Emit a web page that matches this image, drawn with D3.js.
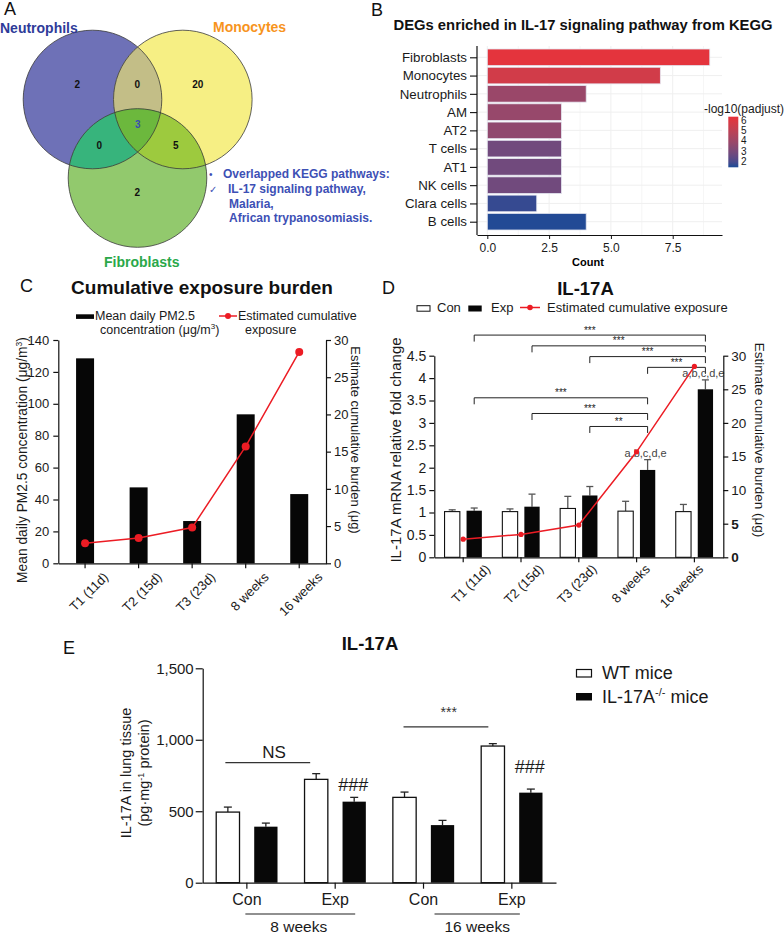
<!DOCTYPE html>
<html><head><meta charset="utf-8">
<script src="https://cdn.jsdelivr.net/npm/d3@7"></script>
<style>body{margin:0;background:#fff} svg{display:block} text{font-family:"Liberation Sans",Arial,sans-serif}</style>
</head><body><svg id="fig" width="784" height="937"></svg>
<script>
// ================= DATA =================
// Panel A
const vennSetNames = ["Neutrophils", "Monocytes", "Fibroblasts"];
const vennRegions = ["N only", "N∩M", "M only", "N∩M∩F", "N∩F", "M∩F", "F only"];
const vennCounts = [2, 0, 20, 3, 0, 5, 2];
const keggLines = ["Overlapped KEGG pathways:", "IL-17 signaling pathway,", "Malaria,", "African trypanosomiasis."];
// Panel B
const degCellTypes = ["Fibroblasts", "Monocytes", "Neutrophils", "AM", "AT2", "T cells", "AT1", "NK cells", "Clara cells", "B cells"];
const degCounts = [9, 7, 4, 3, 3, 3, 3, 3, 2, 4];
const degNegLogPadj = [6.2, 5.6, 3.9, 3.8, 3.6, 2.8, 2.8, 2.8, 1.7, 1.5];
const countTicks = [0, 2.5, 5, 7.5];
const padjTicks = [2, 3, 4, 5, 6];
// Panel C / D
const timePoints = ["T1 (11d)", "T2 (15d)", "T3 (23d)", "8 weeks", "16 weeks"];
const meanDailyPM25 = [128.5, 47.6, 26.5, 93.4, 43.4];
const cumulativeExposure = [2.7, 3.4, 4.8, 15.7, 28.4];
const pm25Ticks = [0, 20, 40, 60, 80, 100, 120, 140];
const burdenTicks = [0, 5, 10, 15, 20, 25, 30];
const il17aConMean = [1.02, 1.02, 1.09, 1.03, 1.02];
const il17aConErr = [0.04, 0.06, 0.27, 0.22, 0.16];
const il17aExpMean = [1.04, 1.13, 1.38, 1.95, 3.75];
const il17aExpErr = [0.06, 0.28, 0.20, 0.23, 0.21];
const foldTicks = [0, 0.5, 1, 1.5, 2, 2.5, 3, 3.5, 4, 4.5];
const sigFrom = [0, 1, 2, 3, 0, 1, 2];
const sigTo = [4, 4, 4, 4, 3, 3, 3];
const sigLabels = ["***", "***", "***", "***", "***", "***", "**"];
const letterLabels = ["", "", "", "a,b,c,d,e", "a,b,c,d,e"];
// Panel E
const eGroups = ["Con 8 weeks", "Exp 8 weeks", "Con 16 weeks", "Exp 16 weeks"];
const eGroupLabels = ["Con", "Exp", "Con", "Exp"];
const ePeriods = ["8 weeks", "16 weeks"];
const wtMean = [494, 723, 597, 956];
const wtErr = [35, 40, 37, 17];
const koMean = [392, 567, 403, 630];
const koErr = [25, 30, 33, 25];
const eTicks = [0, 500, 1000, 1500];

// ================= LAYOUT / DRAW =================
const svg = d3.select("#fig");
svg.append("rect").attr("width", 784).attr("height", 937).attr("fill", "#fff");
const defs = svg.append("defs");
const FONT = "'Liberation Sans',Arial,sans-serif";

function letter(t, x, y) {
  svg.append("text").attr("x", x).attr("y", y).attr("font-size", 18).attr("fill", "#111").text(t);
}
letter("A", 4, 15); letter("B", 371, 16); letter("C", 20, 292); letter("D", 382, 294); letter("E", 63, 654);

// ---------- Panel A: Venn ----------
const vennLayout = [{cx: 92.5, cy: 99.5}, {cx: 182.8, cy: 99.5}, {cx: 137.5, cy: 178}];
const vR = 69.3;
const A = svg.append("g");
["cN", "cM", "cF"].forEach((id, i) => {
  defs.append("clipPath").attr("id", id).append("circle")
    .attr("cx", vennLayout[i].cx).attr("cy", vennLayout[i].cy).attr("r", vR);
});
const baseCols = ["#6e71b7", "#f6ef84", "#92c96d"];
vennLayout.forEach((c, i) => A.append("circle").attr("cx", c.cx).attr("cy", c.cy).attr("r", vR).attr("fill", baseCols[i]));
A.append("circle").attr("cx", vennLayout[1].cx).attr("cy", vennLayout[1].cy).attr("r", vR).attr("clip-path", "url(#cN)").attr("fill", "#c3be87");
A.append("circle").attr("cx", vennLayout[2].cx).attr("cy", vennLayout[2].cy).attr("r", vR).attr("clip-path", "url(#cN)").attr("fill", "#37b47c");
A.append("circle").attr("cx", vennLayout[2].cx).attr("cy", vennLayout[2].cy).attr("r", vR).attr("clip-path", "url(#cM)").attr("fill", "#9dca3e");
A.append("g").attr("clip-path", "url(#cN)").append("circle").attr("cx", vennLayout[2].cx).attr("cy", vennLayout[2].cy).attr("r", vR).attr("clip-path", "url(#cM)").attr("fill", "#6cb83d");
vennLayout.forEach(c => A.append("circle").attr("cx", c.cx).attr("cy", c.cy).attr("r", vR).attr("fill", "none").attr("stroke", "#3a3a3a").attr("stroke-width", 0.8));
const regionPos = [[77.3, 84.3], [137.3, 84.3], [197.7, 84.3], [137.7, 124.3], [99.3, 145.7], [175.7, 145.7], [137.3, 192.3]];
vennCounts.forEach((v, i) => {
  A.append("text").attr("x", regionPos[i][0]).attr("y", regionPos[i][1] + 3.5).attr("text-anchor", "middle")
    .attr("font-size", 10).attr("font-weight", "bold").attr("fill", i === 3 ? "#3a4db0" : "#111").text(v);
});
const setLabelPos = [[0, 33, "start", "#2e3b99"], [213, 32, "start", "#f7941d"], [104, 267, "start", "#2aa84a"]];
vennSetNames.forEach((n, i) => {
  A.append("text").attr("x", setLabelPos[i][0]).attr("y", setLabelPos[i][1]).attr("text-anchor", setLabelPos[i][2])
    .attr("font-size", 14).attr("font-weight", "bold").attr("fill", setLabelPos[i][3]).text(n);
});
const kCol = "#3d50b5";
A.append("text").attr("x", 209).attr("y", 178).attr("font-size", 10).attr("fill", kCol).text("•");
A.append("text").attr("x", 209).attr("y", 193).attr("font-size", 10).attr("fill", kCol).attr("font-family", "DejaVu Sans").text("✓");
const kPos = [[223, 178], [228, 193], [229, 207.5], [229, 222]];
keggLines.forEach((t, i) => A.append("text").attr("x", kPos[i][0]).attr("y", kPos[i][1]).attr("font-size", 12)
  .attr("font-weight", "bold").attr("fill", kCol).text(t));

// ---------- Panel B: bar chart ----------
const B = svg.append("g");
B.append("text").attr("x", 583).attr("y", 30).attr("text-anchor", "middle").attr("font-size", 14.8).attr("font-weight", "bold").attr("fill", "#111")
  .text("DEGs enriched in IL-17 signaling pathway from KEGG");
const bx = d3.scaleLinear().domain([-0.417, 9.494]).range([477, 722]);
const by = d3.scalePoint().domain(degCellTypes).range([57.3, 221.7]);
const bBarH = 16.6;
const cMin = 1.44, cMax = 6.33;
const bColor = d3.scaleLinear().domain([cMin, cMax]).range(["#1a4a96", "#e8323a"]).interpolate(d3.interpolateLab);
// grid
const minorTicks = [1.25, 3.75, 6.25, 8.75];
B.selectAll(".gmin").data(minorTicks).join("line").attr("x1", d => bx(d)).attr("x2", d => bx(d)).attr("y1", 46).attr("y2", 235).attr("stroke", "#f6f6f6");
B.selectAll(".gmaj").data(countTicks).join("line").attr("x1", d => bx(d)).attr("x2", d => bx(d)).attr("y1", 46).attr("y2", 235).attr("stroke", "#efefef");
B.selectAll(".gh").data(degCellTypes).join("line").attr("x1", 477).attr("x2", 722).attr("y1", d => by(d)).attr("y2", d => by(d)).attr("stroke", "#efefef");
B.selectAll(".bar").data(degCellTypes).join("rect")
  .attr("x", bx(0)).attr("y", d => by(d) - bBarH / 2).attr("height", bBarH)
  .attr("width", (d, i) => bx(degCounts[i]) - bx(0))
  .attr("fill", (d, i) => bColor(degNegLogPadj[i])).attr("stroke", "#e4e6f0").attr("stroke-width", 0.8);
const bYAxis = B.append("g").attr("transform", "translate(477,0)")
  .call(d3.axisLeft(by).tickSize(7).tickPadding(3).tickSizeOuter(0));
bYAxis.select(".domain").remove();
bYAxis.selectAll("text").attr("font-size", 13.3).attr("fill", "#1a1a1a").attr("font-family", FONT);
bYAxis.selectAll("line").attr("stroke", "#111").attr("stroke-width", 1.1);
B.append("line").attr("x1", 477).attr("x2", 477).attr("y1", 46).attr("y2", 235).attr("stroke", "#111").attr("stroke-width", 1.2);
const bXAxis = B.append("g").attr("transform", "translate(0,235)")
  .call(d3.axisBottom(bx).tickValues(countTicks).tickFormat(d3.format(".1f")).tickSize(4).tickPadding(4).tickSizeOuter(0));
bXAxis.select(".domain").attr("stroke", "#111").attr("stroke-width", 1.2);
bXAxis.selectAll("text").attr("font-size", 12).attr("fill", "#1a1a1a").attr("font-family", FONT);
bXAxis.selectAll("line").attr("stroke", "#111");
B.append("text").attr("x", 588).attr("y", 266).attr("text-anchor", "middle").attr("font-size", 11).attr("font-weight", "bold").text("Count");
// colour legend
B.append("text").attr("x", 704).attr("y", 113).attr("font-size", 12).attr("fill", "#1a1a1a").text("-log10(padjust)");
const cbY = d3.scaleLinear().domain([cMin, cMax]).range([167.3, 116.7]);
const grad = defs.append("linearGradient").attr("id", "cbar").attr("x1", 0).attr("x2", 0).attr("y1", 1).attr("y2", 0);
d3.range(0, 1.0001, 0.1).forEach(t => grad.append("stop").attr("offset", t).attr("stop-color", bColor(cMin + t * (cMax - cMin))));
B.append("rect").attr("x", 728.3).attr("y", cbY(cMax)).attr("width", 10).attr("height", cbY(cMin) - cbY(cMax)).attr("fill", "url(#cbar)");
B.selectAll(".cbt").data(padjTicks).join("text").attr("x", 741).attr("y", d => cbY(d) + 3.6).attr("font-size", 10).attr("fill", "#1a1a1a").text(d => d);

// ---------- Panel C ----------
const C = svg.append("g");
C.append("text").attr("x", 202).attr("y", 294).attr("text-anchor", "middle").attr("font-size", 19).attr("font-weight", "bold").attr("fill", "#111").text("Cumulative exposure burden");
const cx = d3.scaleBand().domain(timePoints).range([58.3, 326]).paddingInner(0.664).paddingOuter(0.332);
const cyL = d3.scaleLinear().domain([0, 140]).range([563.3, 340]);
const cyR = d3.scaleLinear().domain([0, 30]).range([563.3, 340]);
C.selectAll(".cb").data(timePoints).join("rect").attr("x", d => cx(d)).attr("width", cx.bandwidth())
  .attr("y", (d, i) => cyL(meanDailyPM25[i])).attr("height", (d, i) => cyL(0) - cyL(meanDailyPM25[i])).attr("fill", "#060606");
const cLine = d3.line().x((d, i) => cx(timePoints[i]) + cx.bandwidth() / 2).y(d => cyR(d));
C.append("path").datum(cumulativeExposure).attr("d", cLine).attr("fill", "none").attr("stroke", "#ec1c24").attr("stroke-width", 1.5);
C.selectAll(".cd").data(cumulativeExposure).join("circle").attr("cx", (d, i) => cx(timePoints[i]) + cx.bandwidth() / 2).attr("cy", d => cyR(d)).attr("r", 4).attr("fill", "#ec1c24");
function styleAxis(g, fs) {
  g.select(".domain").attr("stroke", "#111").attr("stroke-width", 1.2);
  g.selectAll("line").attr("stroke", "#111").attr("stroke-width", 1.2);
  g.selectAll("text").attr("font-size", fs).attr("fill", "#1a1a1a").attr("font-family", FONT);
}
const cLA = C.append("g").attr("transform", "translate(58.3,0)").call(d3.axisLeft(cyL).tickValues(pm25Ticks).tickSize(5).tickPadding(4).tickSizeOuter(0));
styleAxis(cLA, 13);
const cRA = C.append("g").attr("transform", "translate(326,0)").call(d3.axisRight(cyR).tickValues(burdenTicks).tickSize(5).tickPadding(3).tickSizeOuter(0));
styleAxis(cRA, 13);
const cXA = C.append("g").attr("transform", "translate(0,563.3)").call(d3.axisBottom(cx).tickSize(5).tickSizeOuter(0).tickFormat(""));
styleAxis(cXA, 13);
C.selectAll(".cxl").data(timePoints).join("text")
  .attr("transform", d => `translate(${cx(d) + cx.bandwidth() / 2 + 24},578) rotate(-45)`)
  .attr("text-anchor", "end").attr("font-size", 13).attr("fill", "#1a1a1a").text(d => d);
// axis titles
const cLT = C.append("text").attr("transform", "translate(27,460) rotate(-90)").attr("text-anchor", "middle").attr("font-size", 13.8).attr("fill", "#1a1a1a");
cLT.append("tspan").text("Mean daily PM2.5 concentration (μg/m");
cLT.append("tspan").attr("font-size", 8.5).attr("dy", -5).text("3");
cLT.append("tspan").attr("dy", 5).text(")");
C.append("text").attr("transform", "translate(351,440) rotate(90)").attr("text-anchor", "middle").attr("font-size", 13).attr("fill", "#1a1a1a").text("Estimate cumulative burden (μg)");
// legend
C.append("rect").attr("x", 76).attr("y", 314.3).attr("width", 18).attr("height", 4.6).attr("fill", "#060606");
C.append("text").attr("x", 95).attr("y", 320).attr("font-size", 12.5).attr("fill", "#1a1a1a").text("Mean daily PM2.5");
const cLg2 = C.append("text").attr("x", 100).attr("y", 334).attr("font-size", 12.5).attr("fill", "#1a1a1a");
cLg2.append("tspan").text("concentration (μg/m");
cLg2.append("tspan").attr("font-size", 8).attr("dy", -5).text("3");
cLg2.append("tspan").attr("dy", 5).text(")");
C.append("line").attr("x1", 219).attr("x2", 237).attr("y1", 316).attr("y2", 316).attr("stroke", "#ec1c24").attr("stroke-width", 1.5);
C.append("circle").attr("cx", 228).attr("cy", 316).attr("r", 3).attr("fill", "#ec1c24");
C.append("text").attr("x", 238).attr("y", 320).attr("font-size", 12.5).attr("fill", "#1a1a1a").text("Estimated cumulative");
C.append("text").attr("x", 245).attr("y", 334).attr("font-size", 12.5).attr("fill", "#1a1a1a").text("exposure");

// ---------- Panel D ----------
const D = svg.append("g");
D.append("text").attr("x", 585.5).attr("y", 295).attr("text-anchor", "middle").attr("font-size", 18.5).attr("font-weight", "bold").attr("fill", "#111").text("IL-17A");
const dx = d3.scaleBand().domain(timePoints).range([434.3, 723.3]);
const dOff = 11, dW = 15.3;
const dyL = d3.scaleLinear().domain([0, 4.5]).range([557.3, 355.7]);
const dyR = d3.scaleLinear().domain([0, 30]).range([557.3, 355.7]);
const dc = d => dx(d) + dx.bandwidth() / 2;
function errBars(g, xs, means, errs, ys, capW, col) {
  means.forEach((m, i) => {
    g.append("line").attr("x1", xs[i]).attr("x2", xs[i]).attr("y1", ys(m)).attr("y2", ys(m + errs[i])).attr("stroke", col).attr("stroke-width", 1.3);
    g.append("line").attr("x1", xs[i] - capW / 2).attr("x2", xs[i] + capW / 2).attr("y1", ys(m + errs[i])).attr("y2", ys(m + errs[i])).attr("stroke", col).attr("stroke-width", 1.3);
  });
}
const dConX = timePoints.map(t => dc(t) - dOff), dExpX = timePoints.map(t => dc(t) + dOff);
errBars(D, dConX, il17aConMean, il17aConErr, dyL, 7, "#555");
errBars(D, dExpX, il17aExpMean, il17aExpErr, dyL, 7, "#555");
D.selectAll(".dcon").data(il17aConMean).join("rect").attr("x", (d, i) => dConX[i] - dW / 2).attr("width", dW)
  .attr("y", d => dyL(d)).attr("height", d => dyL(0) - dyL(d)).attr("fill", "#fff").attr("stroke", "#111").attr("stroke-width", 1.1);
D.selectAll(".dexp").data(il17aExpMean).join("rect").attr("x", (d, i) => dExpX[i] - dW / 2).attr("width", dW)
  .attr("y", d => dyL(d)).attr("height", d => dyL(0) - dyL(d)).attr("fill", "#070707");
// significance brackets
const bracketLevels = [4.96, 4.72, 4.48, 4.24, 3.56, 3.21, 2.92];
sigLabels.forEach((s, k) => {
  const x1 = dExpX[sigFrom[k]], x2 = dExpX[sigTo[k]], y = dyL(bracketLevels[k]);
  D.append("path").attr("d", `M${x1},${y + 6.5}V${y}H${x2}V${y + 6.5}`).attr("fill", "none").attr("stroke", "#222").attr("stroke-width", 1);
  D.append("text").attr("x", (x1 + x2) / 2).attr("y", y - 1.5).attr("text-anchor", "middle").attr("font-size", 10).attr("fill", "#222").text(s);
});
letterLabels.forEach((l, i) => {
  if (!l) return;
  D.append("text").attr("x", dExpX[i] - 2).attr("y", dyL(il17aExpMean[i] + il17aExpErr[i]) - 3).attr("text-anchor", "middle").attr("font-size", 11).attr("fill", "#444").text(l);
});
// red line
const dLine = d3.line().x((d, i) => dc(timePoints[i])).y(d => dyR(d));
D.append("path").datum(cumulativeExposure).attr("d", dLine).attr("fill", "none").attr("stroke", "#ec1c24").attr("stroke-width", 1.5);
D.selectAll(".dd").data(cumulativeExposure).join("circle").attr("cx", (d, i) => dc(timePoints[i])).attr("cy", d => dyR(d)).attr("r", 2.6).attr("fill", "#ec1c24");
const dLA = D.append("g").attr("transform", "translate(434.3,0)").call(d3.axisLeft(dyL).tickValues(foldTicks).tickFormat(d3.format("")).tickSize(5).tickPadding(3).tickSizeOuter(0));
styleAxis(dLA, 14);
const dRA = D.append("g").attr("transform", "translate(723.3,0)").call(d3.axisRight(dyR).tickValues(burdenTicks).tickSize(5).tickPadding(3).tickSizeOuter(0));
styleAxis(dRA, 13.5);
dRA.selectAll(".tick text").attr("font-weight", d => d <= 5 ? "bold" : "normal");
const dXA = D.append("g").attr("transform", "translate(0,557.3)").call(d3.axisBottom(dx).tickSize(5).tickSizeOuter(0).tickFormat(""));
styleAxis(dXA, 13);
const dLabelX = d3.scalePoint().domain(timePoints).range([491, 704]);
D.selectAll(".dxl").data(timePoints).join("text")
  .attr("transform", d => `translate(${dLabelX(d)},570) rotate(-45)`)
  .attr("text-anchor", "end").attr("font-size", 13).attr("fill", "#1a1a1a").text(d => d);
D.append("text").attr("transform", "translate(400.5,450) rotate(-90)").attr("text-anchor", "middle").attr("font-size", 15).attr("fill", "#1a1a1a").text("IL-17A mRNA relative fold change");
D.append("text").attr("transform", "translate(755,440) rotate(90)").attr("text-anchor", "middle").attr("font-size", 13.5).attr("fill", "#1a1a1a").text("Estimate cumulative burden (μg)");
// legend
D.append("rect").attr("x", 417).attr("y", 305.7).attr("width", 13).attr("height", 5.5).attr("fill", "#fff").attr("stroke", "#111").attr("stroke-width", 1);
D.append("text").attr("x", 437).attr("y", 311.5).attr("font-size", 13).attr("fill", "#1a1a1a").text("Con");
D.append("rect").attr("x", 468.3).attr("y", 305.5).attr("width", 13.4).attr("height", 6).attr("fill", "#070707");
D.append("text").attr("x", 491).attr("y", 311.5).attr("font-size", 13).attr("fill", "#1a1a1a").text("Exp");
D.append("line").attr("x1", 520).attr("x2", 540).attr("y1", 307.5).attr("y2", 307.5).attr("stroke", "#ec1c24").attr("stroke-width", 1.5);
D.append("circle").attr("cx", 530).attr("cy", 307.5).attr("r", 2.8).attr("fill", "#ec1c24");
D.append("text").attr("x", 547).attr("y", 311.5).attr("font-size", 13).attr("fill", "#1a1a1a").text("Estimated cumulative exposure");

// ---------- Panel E ----------
const E = svg.append("g");
E.append("text").attr("x", 370).attr("y", 650).attr("text-anchor", "middle").attr("font-size", 18.5).attr("font-weight", "bold").attr("fill", "#111").text("IL-17A");
const ex = d3.scaleBand().domain(eGroups).range([202.7, 556]);
const ec = d => ex(d) + ex.bandwidth() / 2;
const ey = d3.scaleLinear().domain([0, 1500]).range([882.7, 668.3]);
const eOff = 19, eW = 23.3;
const wtX = eGroups.map(g => ec(g) - eOff), koX = eGroups.map(g => ec(g) + eOff);
errBars(E, wtX, wtMean, wtErr, ey, 8, "#222");
errBars(E, koX, koMean, koErr, ey, 8, "#222");
E.selectAll(".ewt").data(wtMean).join("rect").attr("x", (d, i) => wtX[i] - eW / 2).attr("width", eW)
  .attr("y", d => ey(d)).attr("height", d => ey(0) - ey(d)).attr("fill", "#fff").attr("stroke", "#111").attr("stroke-width", 1.3);
E.selectAll(".eko").data(koMean).join("rect").attr("x", (d, i) => koX[i] - eW / 2).attr("width", eW)
  .attr("y", d => ey(d)).attr("height", d => ey(0) - ey(d)).attr("fill", "#080808");
const eLA = E.append("g").attr("transform", "translate(202.7,0)").call(d3.axisLeft(ey).tickValues(eTicks).tickFormat(d3.format(",")).tickSize(7).tickPadding(2).tickSizeOuter(0));
styleAxis(eLA, 15);
const eXA = E.append("g").attr("transform", "translate(0,882.7)").call(d3.axisBottom(ex).tickSize(6).tickSizeOuter(0).tickFormat(""));
styleAxis(eXA, 15);
E.selectAll(".egl").data(eGroups).join("text").attr("x", d => ec(d)).attr("y", 905).attr("text-anchor", "middle").attr("font-size", 16).attr("fill", "#1a1a1a").text((d, i) => eGroupLabels[i]);
const periodSpan = [[ec(eGroups[0]) - 1.5, ec(eGroups[1]) + 20], [ec(eGroups[2]) + 11, ec(eGroups[3]) + 8]];
ePeriods.forEach((p, i) => {
  E.append("line").attr("x1", periodSpan[i][0]).attr("x2", periodSpan[i][1]).attr("y1", 914).attr("y2", 914).attr("stroke", "#222").attr("stroke-width", 1.2);
  E.append("text").attr("x", (periodSpan[i][0] + periodSpan[i][1]) / 2 - (i === 0 ? 1.5 : 0)).attr("y", 932).attr("text-anchor", "middle").attr("font-size", 15.5).attr("fill", "#1a1a1a").text(p);
});
// annotations
const nsY = ey(840), starY = ey(1090);
E.append("line").attr("x1", ec(eGroups[0]) - 21.5).attr("x2", ec(eGroups[1]) - 25).attr("y1", nsY).attr("y2", nsY).attr("stroke", "#333").attr("stroke-width", 1.2);
E.append("text").attr("x", (ec(eGroups[0]) + ec(eGroups[1])) / 2 - 17).attr("y", nsY - 5).attr("text-anchor", "middle").attr("font-size", 17).attr("fill", "#1a1a1a").text("NS");
E.append("line").attr("x1", ec(eGroups[2]) - 20).attr("x2", ec(eGroups[3]) - 23.5).attr("y1", starY).attr("y2", starY).attr("stroke", "#333").attr("stroke-width", 1.2);
E.append("text").attr("x", (ec(eGroups[2]) + ec(eGroups[3])) / 2 - 19).attr("y", starY - 10).attr("text-anchor", "middle").attr("font-size", 14).attr("fill", "#333").text("***");
const hashLevels = [684, 812];
[1, 3].forEach((g, k) => {
  E.append("text").attr("x", koX[g] - 1).attr("y", ey(hashLevels[k]) + 6.5).attr("text-anchor", "middle").attr("font-size", 18).attr("fill", "#1a1a1a").text("###");
});
// y title
E.append("text").attr("transform", "translate(130.5,773) rotate(-90)").attr("text-anchor", "middle").attr("font-size", 14.5).attr("fill", "#1a1a1a").text("IL-17A in lung tissue");
const eT2 = E.append("text").attr("transform", "translate(149,773) rotate(-90)").attr("text-anchor", "middle").attr("font-size", 14.5).attr("fill", "#1a1a1a");
eT2.append("tspan").text("(pg·mg");
eT2.append("tspan").attr("font-size", 9).attr("dy", -5).text("-1");
eT2.append("tspan").attr("dy", 5).text(" protein)");
// legend
E.append("rect").attr("x", 576.5).attr("y", 669.5).attr("width", 15).attr("height", 7.5).attr("fill", "#fff").attr("stroke", "#111").attr("stroke-width", 1.2);
E.append("text").attr("x", 602).attr("y", 679).attr("font-size", 18).attr("fill", "#1a1a1a").text("WT mice");
E.append("rect").attr("x", 576).attr("y", 693).attr("width", 16).attr("height", 7.5).attr("fill", "#080808");
const eLg = E.append("text").attr("x", 602).attr("y", 702.5).attr("font-size", 18).attr("fill", "#1a1a1a");
eLg.append("tspan").text("IL-17A");
eLg.append("tspan").attr("font-size", 11).attr("dy", -7).text("-/-");
eLg.append("tspan").attr("dy", 7).text(" mice");
</script></body></html>
